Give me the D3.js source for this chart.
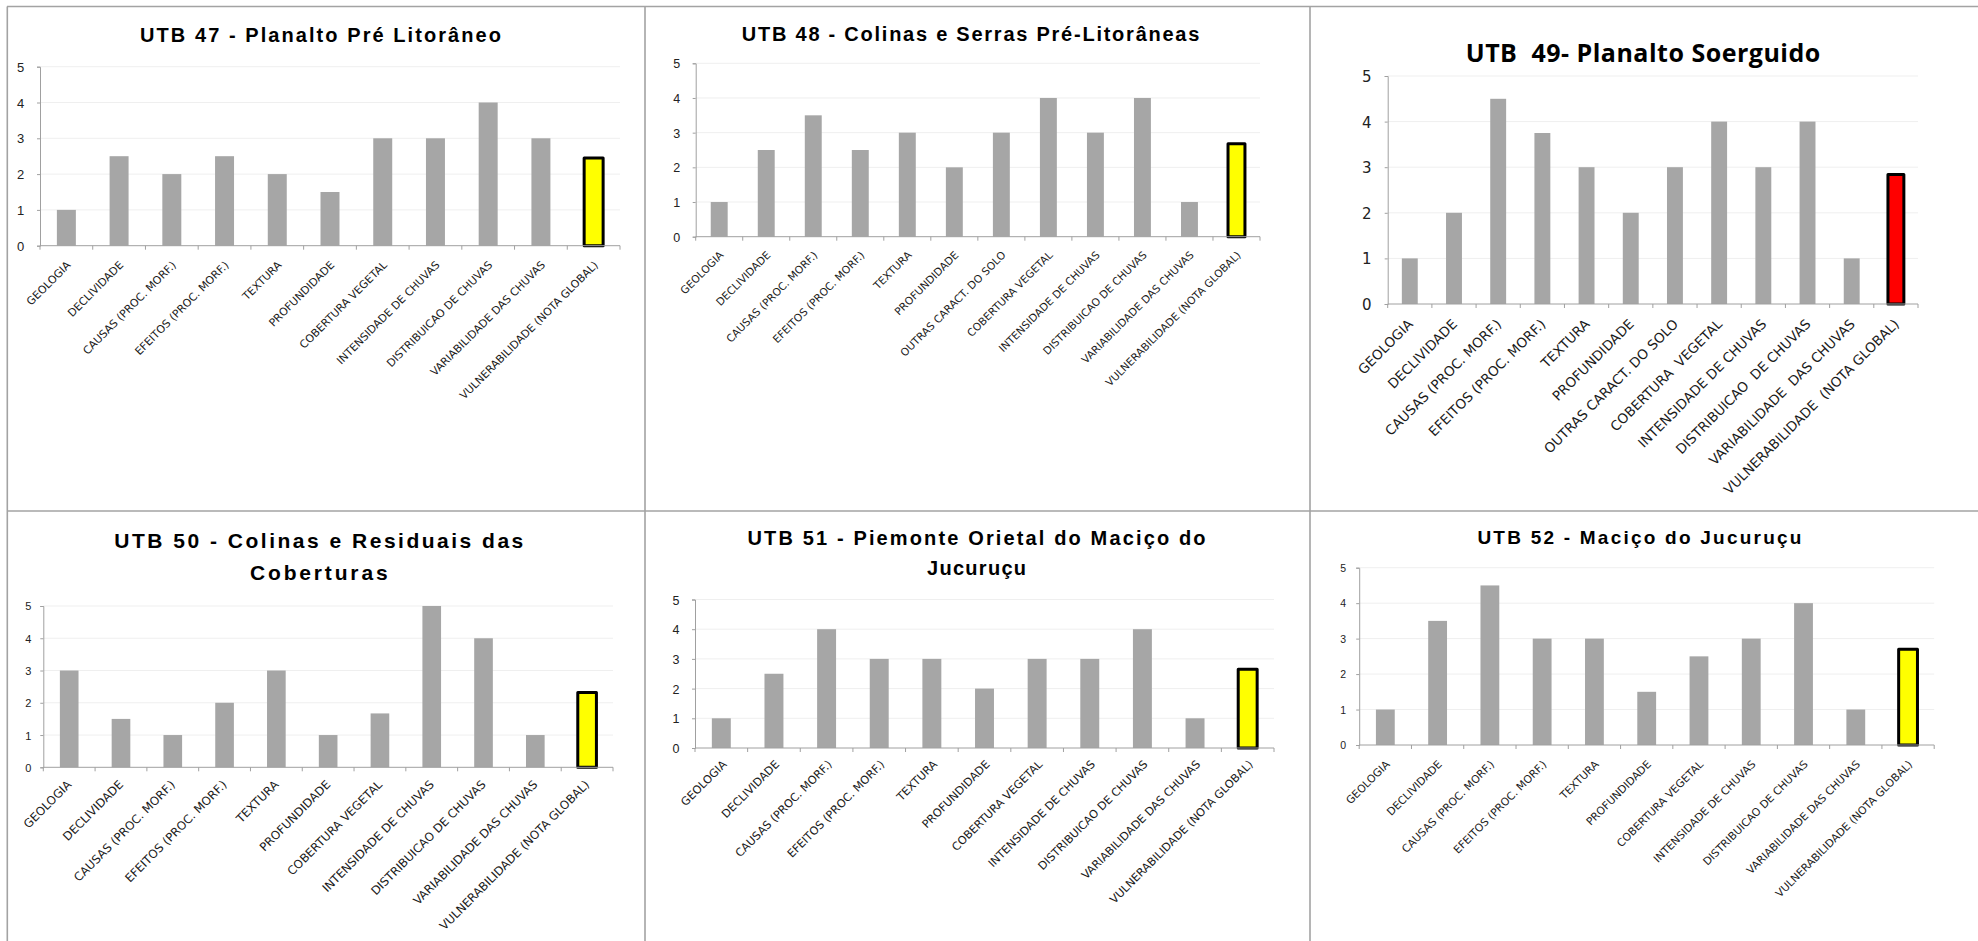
<!DOCTYPE html>
<html>
<head>
<meta charset="utf-8">
<script src="https://cdn.jsdelivr.net/npm/d3@7"></script>
<style>
  html, body { margin: 0; padding: 0; background: #ffffff; }
  svg { display: block; }
  text { white-space: pre; }
</style>
</head>
<body>
<svg id="chart" width="1978" height="941"></svg>
<script>
// ---- Categories -------------------------------------------------------------
const categoriesBase = [
  "GEOLOGIA", "DECLIVIDADE", "CAUSAS (PROC. MORF.)", "EFEITOS (PROC. MORF.)",
  "TEXTURA", "PROFUNDIDADE", "COBERTURA VEGETAL", "INTENSIDADE DE CHUVAS",
  "DISTRIBUICAO DE CHUVAS", "VARIABILIDADE DAS CHUVAS", "VULNERABILIDADE (NOTA GLOBAL)"
];
const categoriesSolo = [
  "GEOLOGIA", "DECLIVIDADE", "CAUSAS (PROC. MORF.)", "EFEITOS (PROC. MORF.)",
  "TEXTURA", "PROFUNDIDADE", "OUTRAS CARACT. DO SOLO", "COBERTURA VEGETAL",
  "INTENSIDADE DE CHUVAS", "DISTRIBUICAO DE CHUVAS", "VARIABILIDADE DAS CHUVAS",
  "VULNERABILIDADE (NOTA GLOBAL)"
];
const categoriesUtb49 = [
  "GEOLOGIA", "DECLIVIDADE", "CAUSAS (PROC. MORF.)", "EFEITOS (PROC. MORF.)",
  "TEXTURA", "PROFUNDIDADE", "OUTRAS CARACT. DO SOLO", "COBERTURA  VEGETAL",
  "INTENSIDADE DE CHUVAS", "DISTRIBUICAO  DE CHUVAS", "VARIABILIDADE  DAS CHUVAS",
  "VULNERABILIDADE  (NOTA GLOBAL)"
];

// ---- Scores per unit (last value = overall vulnerability) ------------------
const utb47Values = [1, 2.5, 2, 2.5, 2, 1.5, 3, 3, 4, 3, 2.45];
const utb48Values = [1, 2.5, 3.5, 2.5, 3, 2, 3, 4, 3, 4, 1, 2.68];
const utb49Values = [1, 2, 4.5, 3.75, 3, 2, 3, 4, 3, 4, 1, 2.84];
const utb50Values = [3, 1.5, 1, 2, 3, 1, 1.67, 5, 4, 1, 2.32];
const utb51Values = [1, 2.5, 4, 3, 3, 2, 3, 3, 4, 1, 2.65];
const utb52Values = [1, 3.5, 4.5, 3, 3, 1.5, 2.5, 3, 4, 1, 2.7];

// ---- Titles and axis ticks --------------------------------------------------
const utb47Title = ["UTB 47 - Planalto Pré Litorâneo"];
const utb48Title = ["UTB 48 - Colinas e Serras Pré-Litorâneas"];
const utb49Title = ["UTB  49- Planalto Soerguido"];
const utb50Title = ["UTB 50 - Colinas e Residuais das", "Coberturas"];
const utb51Title = ["UTB 51 - Piemonte Orietal do Maciço do", "Jucuruçu"];
const utb52Title = ["UTB 52 - Maciço do Jucuruçu"];
const yTicks = [0, 1, 2, 3, 4, 5];

// ---- Panel layout -------------------------------------------------------------
const ARIAL = "'Liberation Sans', Arial, sans-serif";
const GOTHIC = "'DejaVu Sans', 'Open Sans', sans-serif";
const GOTHIC_BOLD = "'Open Sans', 'DejaVu Sans', sans-serif";

// labLen: length of the longest category label along its slant
const panels = [
  { title: utb47Title, cats: categoriesBase, values: utb47Values, hi: "#ffff00",
    x0: 40, x1: 620, y0: 245.7, y5: 66.7,
    tCx: 320.5, tBase: [41.7], tSize: 20, tLen: [361], tFont: ARIAL,
    tickSize: 13, tickOff: 19.3, tickFont: ARIAL,
    labLen: 190, labFont: GOTHIC, labDx: 5, labDy: 20 },
  { title: utb48Title, cats: categoriesSolo, values: utb48Values, hi: "#ffff00",
    x0: 695.7, x1: 1260, y0: 236.7, y5: 63.3,
    tCx: 970.6, tBase: [40.7], tSize: 20, tLen: [457.5], tFont: ARIAL,
    tickSize: 12.5, tickOff: 19, tickFont: ARIAL,
    labLen: 186, labFont: GOTHIC, labDx: 5, labDy: 19 },
  { title: utb49Title, cats: categoriesUtb49, values: utb49Values, hi: "#ff0000",
    x0: 1387.7, x1: 1918, y0: 304, y5: 76,
    tCx: 1643, tBase: [61.7], tSize: 25, tLen: [354.5], tFont: GOTHIC_BOLD,
    tickSize: 15, tickOff: 21, tickFont: GOTHIC,
    labLen: 241, labFont: GOTHIC, labDx: 4, labDy: 21 },
  { title: utb50Title, cats: categoriesBase, values: utb50Values, hi: "#ffff00",
    x0: 43.3, x1: 613, y0: 767.3, y5: 606,
    tCx: 318.8, tBase: [548.3, 580], tSize: 21, tLen: [409, 137.6], tFont: ARIAL,
    tickSize: 11, tickOff: 15, tickFont: ARIAL,
    labLen: 206, labFont: GOTHIC, labDx: 3, labDy: 18 },
  { title: utb51Title, cats: categoriesBase, values: utb51Values, hi: "#ffff00",
    x0: 695, x1: 1274, y0: 748, y5: 599.5,
    tCx: 976.5, tBase: [545, 575], tSize: 20, tLen: [458, 99], tFont: ARIAL,
    tickSize: 12.5, tickOff: 19, tickFont: ARIAL,
    labLen: 197, labFont: GOTHIC, labDx: 6, labDy: 17 },
  { title: utb52Title, cats: categoriesBase, values: utb52Values, hi: "#ffff00",
    x0: 1359.2, x1: 1934.2, y0: 745, y5: 567.7,
    tCx: 1639.4, tBase: [544.3], tSize: 19, tLen: [324], tFont: ARIAL,
    tickSize: 10.5, tickOff: 16, tickFont: ARIAL,
    labLen: 188, labFont: GOTHIC, labDx: 5, labDy: 20 }
];

const svg = d3.select("#chart");
const AXIS = "#a0a0a0";
const GRID = "#efefef";
const BAR = "#a6a6a6";

// ---- Outer frame and panel separators ------------------------------------------
const frame = svg.append("g").attr("stroke", "#a3a3a3").attr("stroke-width", 1.6).attr("fill", "none");
frame.append("line").attr("x1", 7).attr("x2", 1978).attr("y1", 6.5).attr("y2", 6.5);
frame.append("line").attr("x1", 7.3).attr("x2", 7.3).attr("y1", 6.5).attr("y2", 941);
frame.append("line").attr("x1", 645).attr("x2", 645).attr("y1", 6.5).attr("y2", 941);
frame.append("line").attr("x1", 1310).attr("x2", 1310).attr("y1", 6.5).attr("y2", 941);
frame.append("line").attr("x1", 7).attr("x2", 1978).attr("y1", 511).attr("y2", 511);

function drawPanel(p) {
  const g = svg.append("g");
  const n = p.cats.length;

  const x = d3.scaleBand().domain(p.cats).range([p.x0, p.x1])
    .paddingInner(0.64).paddingOuter(0.32);
  const y = d3.scaleLinear().domain([0, 5]).range([p.y0, p.y5]);
  const step = x.step();

  // horizontal gridlines
  g.append("g").selectAll("line").data(yTicks.filter(d => d > 0)).join("line")
    .attr("x1", p.x0).attr("x2", p.x1)
    .attr("y1", d => y(d)).attr("y2", d => y(d))
    .attr("stroke", GRID).attr("stroke-width", 1);

  // y axis
  const yAxis = g.append("g").attr("transform", `translate(${p.x0},0)`)
    .call(d3.axisLeft(y).tickValues(yTicks).tickSize(3).tickFormat(d3.format("d")));
  yAxis.select(".domain").attr("stroke", AXIS);
  yAxis.selectAll(".tick line").attr("stroke", AXIS);
  yAxis.selectAll("text")
    .attr("text-anchor", "middle").attr("x", -p.tickOff).attr("dy", "0.36em")
    .attr("fill", "#222").style("font-family", p.tickFont).style("font-size", p.tickSize + "px");

  // bars
  const rows = p.cats.map((c, i) => ({ cat: c, value: p.values[i], last: i === n - 1 }));
  g.append("g").selectAll("rect").data(rows).join("rect")
    .attr("x", d => x(d.cat))
    .attr("width", x.bandwidth())
    .attr("y", d => y(d.value))
    .attr("height", d => y(0) - y(d.value))
    .attr("fill", d => d.last ? p.hi : BAR)
    .attr("stroke", d => d.last ? "#000" : "none")
    .attr("stroke-width", d => d.last ? 3 : 0)
    .attr("stroke-linejoin", "round");

  // x axis: baseline with ticks on category boundaries
  const xAxis = g.append("g");
  xAxis.append("line").attr("x1", p.x0).attr("x2", p.x1)
    .attr("y1", y(0)).attr("y2", y(0)).attr("stroke", AXIS).attr("stroke-width", 1);
  xAxis.selectAll("line.b").data(d3.range(n + 1)).join("line").attr("class", "b")
    .attr("x1", i => p.x0 + i * step).attr("x2", i => p.x0 + i * step)
    .attr("y1", y(0)).attr("y2", y(0) + 4)
    .attr("stroke", AXIS).attr("stroke-width", 1);

  // rotated category labels, sized so the longest one spans labLen
  const labels = xAxis.selectAll("text").data(p.cats).join("text")
    .attr("transform", c => {
      const cx = x(c) + x.bandwidth() / 2 + p.labDx;
      return `translate(${cx},${y(0) + p.labDy}) rotate(-45)`;
    })
    .attr("text-anchor", "end")
    .attr("fill", "#1a1a1a")
    .style("font-family", p.labFont)
    .style("font-size", "10px")
    .text(c => c);
  const longest = d3.max(labels.nodes(), nd => nd.getComputedTextLength());
  labels.style("font-size", (10 * p.labLen / longest).toFixed(2) + "px");

  // title
  p.title.forEach((line, i) => {
    g.append("text")
      .attr("x", p.tCx).attr("y", p.tBase[i])
      .attr("text-anchor", "middle")
      .attr("textLength", p.tLen[i]).attr("lengthAdjust", "spacing")
      .attr("fill", "#000")
      .style("font-family", p.tFont).style("font-weight", 700)
      .style("font-size", p.tSize + "px")
      .text(line);
  });
}

panels.forEach(drawPanel);
</script>
</body>
</html>
